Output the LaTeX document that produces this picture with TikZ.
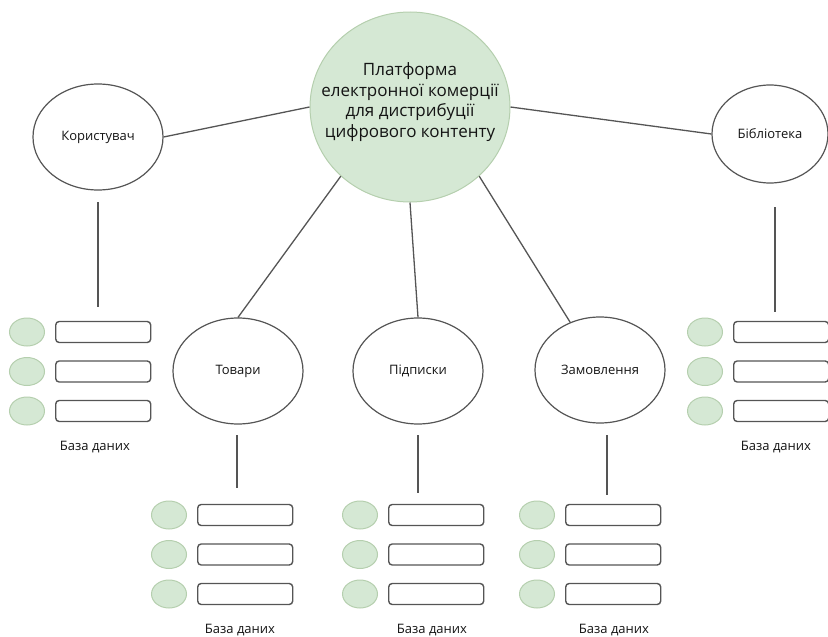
\documentclass[tikz,border=0pt]{standalone}
\usepackage{fontspec}
\setmainfont{Open Sans}
\usetikzlibrary{shapes.geometric}

\definecolor{leaf}{HTML}{D5E8D4}
\definecolor{leafedge}{HTML}{B5CFAE}
\definecolor{ink}{HTML}{555555}
\definecolor{txt}{HTML}{141414}

\tikzset{
  entity/.style={ellipse, draw=ink, line width=1.2pt, fill=white,
    minimum width=130pt, minimum height=106pt, inner sep=0pt,
    font=\fontsize{13}{15}\selectfont, text=txt},
  hub/.style={ellipse, fill=leaf, draw=leafedge, line width=1pt,
    minimum width=200pt, minimum height=190pt, inner sep=0pt},
  hubtext/.style={align=center, inner sep=0pt,
    font=\fontsize{17}{20.5}\selectfont, text=txt},
  link/.style={draw=ink, line width=1.3pt},
  dot/.style={ellipse, fill=leaf, draw=leafedge, line width=1pt,
    minimum width=35pt, minimum height=28pt, inner sep=0pt},
  field/.style={rectangle, rounded corners=3.5pt, draw=ink, line width=1.4pt,
    minimum width=95pt, minimum height=21pt, inner sep=0pt},
  dblabel/.style={font=\fontsize{13}{15}\selectfont, text=txt}
}

% #1 name, #2 left edge of the fields, #3 first row y, #4 caption x
\newcommand{\dbstack}[4]{%
  \foreach \i/\dy in {1/0, 2/39.5, 3/79} {
    \node[dot] (#1-c\i) at (#2-28, #3+\dy) {};
    \node[field, anchor=west] (#1-f\i) at (#2, #3+\dy) {};
  }
  \node[dblabel] (#1-label) at (#4, #3+115) {База даних};
}

\begin{document}
\begin{tikzpicture}[x=1pt, y=-1pt]
  \useasboundingbox (0,0) rectangle (828,637);

  % central platform
  \node[hub] (hub) at (410,107) {};
  \node[hubtext] (hub-title) at (410,102)
    {Платформа\\електронної комерції\\для дистрибуції\\цифрового контенту};

  % entities
  \node[entity] (user) at (98,137) {Користувач};
  \node[entity, minimum width=116pt, minimum height=98pt] (library) at (770,134) {Бібліотека};
  \node[entity] (products) at (238,371) {Товари};
  \node[entity] (subs) at (418,371) {Підписки};
  \node[entity] (orders) at (600,370) {Замовлення};

  % links from the platform
  \draw[link] (user.east) -- (hub.west);
  \draw[link] (hub.east) -- (library.west);
  \draw[link] (hub.225) -- (products.north);
  \draw[link] (hub.south) -- (subs.north);
  \draw[link] (hub.-45) -- (orders.122);

  % databases
  \dbstack{userdb}{55}{332}{95}
  \dbstack{libdb}{733}{332}{776}
  \dbstack{proddb}{197}{515}{240}
  \dbstack{subsdb}{388}{515}{432}
  \dbstack{orddb}{565}{515}{614}

  % stems towards the databases
  \coordinate (user-stem) at (98,202);
  \coordinate (userdb-top) at (98,307);
  \coordinate (library-stem) at (775,207);
  \coordinate (libdb-top) at (775,312);
  \coordinate (products-stem) at (237,435);
  \coordinate (proddb-top) at (237,488);
  \coordinate (subs-stem) at (418,435);
  \coordinate (subsdb-top) at (418,493);
  \coordinate (orders-stem) at (607,435);
  \coordinate (orddb-top) at (607,495);
  \draw[link] (user-stem) -- (userdb-top);
  \draw[link] (library-stem) -- (libdb-top);
  \draw[link] (products-stem) -- (proddb-top);
  \draw[link] (subs-stem) -- (subsdb-top);
  \draw[link] (orders-stem) -- (orddb-top);
\end{tikzpicture}
\end{document}
